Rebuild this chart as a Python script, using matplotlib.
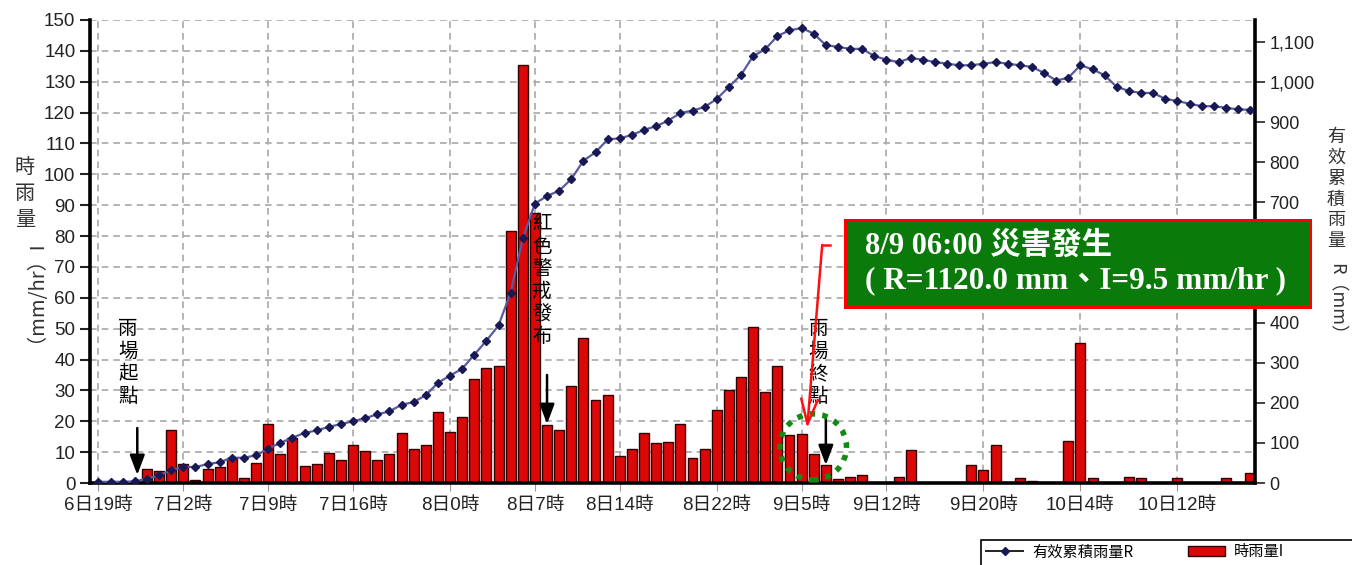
import numpy as np
import matplotlib
matplotlib.use('Agg')
import matplotlib.pyplot as plt
from matplotlib.patches import Ellipse, Rectangle, Patch
from matplotlib.lines import Line2D
from matplotlib.ticker import MultipleLocator

# 時雨量 I (mm/hr)，自 6日19時 起每小時一筆
I = [0, 0, 0, 0, 4.4, 4.0, 17.2, 6.2, 1.0, 4.4,
     5.1, 8.1, 1.6, 6.4, 19.0, 9.4, 14.5, 5.5, 6.2, 9.8,
     7.5, 12.3, 10.5, 7.5, 9.4, 16.3, 10.9, 12.3, 23.0, 16.4,
     21.3, 33.8, 37.2, 38.0, 81.5, 135.3, 87.5, 18.9, 17.3, 31.5,
     47.0, 26.8, 28.4, 8.8, 11.0, 16.3, 12.8, 13.3, 19.2, 8.0,
     11.0, 23.5, 30.0, 34.2, 50.4, 29.4, 37.9, 15.6, 15.8, 9.5,
     5.7, 1.4, 2.0, 2.7, 0, 0, 2.1, 10.6, 0, 0,
     0, 0, 5.9, 4.2, 12.4, 0, 1.6, 0.8, 0, 0,
     13.5, 45.3, 1.6, 0, 0, 2.1, 1.6, 0, 0, 1.6,
     0, 0, 0, 1.6, 0, 3.4]

# 有效累積雨量 R (mm)
R = [3, 3, 3, 4, 11, 19, 32, 40, 40, 47,
     52, 63, 63, 69, 86, 100, 113, 125, 131, 140,
     147, 154, 162, 171, 179, 195, 202, 219, 250, 268,
     285, 320, 355, 393, 475, 610, 697, 716, 729, 758,
     804, 825, 857, 860, 868, 881, 890, 904, 923, 929,
     938, 958, 988, 1018, 1065, 1082, 1115, 1129, 1135, 1121,
     1092, 1088, 1083, 1083, 1065, 1056, 1050, 1060, 1056, 1050,
     1046, 1042, 1042, 1046, 1050, 1046, 1042, 1038, 1023, 1004,
     1011, 1042, 1032, 1017, 988, 978, 973, 973, 958, 953,
     946, 940, 940, 936, 932, 931]

tick_idx = [0, 7, 14, 21, 29, 36, 43, 51, 58, 65, 73, 81, 89]
tick_lab = ['6日19時', '7日2時', '7日9時', '7日16時', '8日0時', '8日7時', '8日14時',
            '8日22時', '9日5時', '9日12時', '9日20時', '10日4時', '10日12時']
r_ticks = [0, 100, 200, 300, 400, 500, 600, 700, 800, 900, 1000, 1100]
hidden_r = [500, 600]   # 被說明框遮住的刻度

plt.rcParams['font.family'] = ['Liberation Sans', 'Noto Sans CJK TC']
CJK = ['Noto Sans CJK TC', 'DejaVu Sans']

W, H = 1352, 565
fig = plt.figure(figsize=(W / 100, H / 100), dpi=100)
ax = fig.add_axes([90 / W, 1 - 483 / H, 1165 / W, 463 / H])
x = np.arange(len(I))

# 時雨量長條
ax.bar(x, I, width=0.82, color='#dc0808', edgecolor='#300000', linewidth=1.0, zorder=2)
ax.set_xlim(-0.7, 95.4)
ax.set_ylim(0, 150)
ax.yaxis.set_major_locator(MultipleLocator(10))
ax.set_xticks(tick_idx)
ax.set_xticklabels(tick_lab, fontsize=13.5, color='#222')
ax.tick_params(axis='y', labelsize=13.5, colors='#222', length=7, width=1.5)
ax.tick_params(axis='x', length=6, color='#999', pad=4)
ax.grid(True, color='#a8a8a8', linestyle=(0, (4, 3)), linewidth=1.2, zorder=0)
ax.set_axisbelow(True)
for s in ['left', 'bottom']:
    ax.spines[s].set_linewidth(2.6)
    ax.spines[s].set_color('black')
ax.spines['top'].set_visible(False)
ax.spines['right'].set_visible(False)

# 有效累積雨量折線
ax2 = ax.twinx()
ax2.plot(x, R, color='#5a5aa0', linewidth=1.6, marker='D', markersize=4.2,
         markerfacecolor='#181855', markeredgecolor='#181855', zorder=3)
ax2.set_ylim(0, 1155)
ax2.set_yticks(r_ticks)
ax2.set_yticklabels(['' if v in hidden_r else f'{v:,}' for v in r_ticks])
ax2.tick_params(axis='y', labelsize=13, colors='#222', length=7, width=1.2)
ax2.spines['right'].set_linewidth(2.6)
ax2.spines['right'].set_color('black')
ax2.spines['top'].set_visible(False)
ax2.spines['left'].set_visible(False)
ax2.spines['bottom'].set_visible(False)

T = ax.transData
arrow_k = dict(arrowstyle='-|>,head_width=0.45,head_length=1.2', color='black', lw=1.8,
               shrinkA=0, shrinkB=0)
vt = dict(transform=T, ha='center', va='top', fontsize=14, linespacing=1.1,
          family=CJK, zorder=6)

# 雨場起點
ax2.text(2.45, 53.5, '雨\n場\n起\n點', **vt)
ax2.annotate('', xy=(3.2, 2.6), xytext=(3.2, 17.8), xycoords=T, textcoords=T,
             arrowprops=arrow_k, zorder=6)

# 紅色警戒發布
ax2.text(36.6, 87.5, '紅\n色\n警\n戒\n發\n布', **vt)
ax2.annotate('', xy=(37.0, 19.1), xytext=(37.0, 35), xycoords=T, textcoords=T,
             arrowprops=arrow_k, zorder=6)

# 雨場終點
ax2.text(59.4, 53.5, '雨\n場\n終\n點', **vt)
ax2.annotate('', xy=(60.0, 5.8), xytext=(60.0, 21.4), xycoords=T, textcoords=T,
             arrowprops=arrow_k, zorder=6)

# 綠色虛線圈
ax2.add_patch(Ellipse((58.95, 11.7), 5.5, 21.4, transform=T, fill=False,
                      edgecolor='#138a13', linewidth=4, linestyle=(0, (1, 1.3)), zorder=6))

# 紅色指示箭頭
ax2.plot([60.35, 59.7], [77.1, 77.1], transform=T, color='#ff1010', lw=1.8,
         clip_on=False, zorder=7)
ax2.annotate('', xy=(58.46, 17.8), xytext=(59.7, 77.1), xycoords=T, textcoords=T,
             arrowprops=dict(arrowstyle='->,head_width=0.6,head_length=1.8', color='#ff1010',
                             lw=1.8, shrinkA=0, shrinkB=0), zorder=7)

# 災害發生說明框
box = Rectangle((845 / W, 1 - 307 / H), 465 / W, 87 / H, transform=fig.transFigure,
                facecolor='#0a7a0a', edgecolor='#ff0000', linewidth=2.2, zorder=10)
fig.add_artist(box)
serif = ['Liberation Serif', 'Noto Sans CJK TC']
fig.text(865 / W, 1 - 246 / H, '8/9 06:00 災害發生', color='white', fontsize=22,
         fontweight='bold', family=serif, ha='left', va='center', zorder=11)
fig.text(865 / W, 1 - 281 / H, '( R=1120.0 mm、I=9.5 mm/hr )', color='white', fontsize=22.5,
         fontweight='bold', family=serif, ha='left', va='center', zorder=11)

# 座標軸標題 (直書)
fig.text(25 / W, 1 - 157 / H, '時\n雨\n量', ha='center', va='top', fontsize=14.5,
         linespacing=1.3, color='#333', family=CJK)
fig.text(25 / W, 1 - 230 / H, '（mm/hr）I', ha='center', va='top', rotation=90,
         fontsize=14.5, color='#333', family=CJK)
fig.text(1336 / W, 1 - 128 / H, '有\n效\n累\n積\n雨\n量', ha='center', va='top', fontsize=13,
         linespacing=1.2, color='#333', family=CJK, fontweight='light')
fig.text(1336 / W, 1 - 263 / H, 'R（mm）', ha='center', va='top', rotation=-90,
         fontsize=13, color='#333', family=CJK, fontweight='light')

# 圖例 (外框延伸出圖面)
fig.add_artist(Rectangle((981 / W, 1 - 575 / H), 400 / W, 35 / H, transform=fig.transFigure,
                         facecolor='white', edgecolor='black', linewidth=1.2, zorder=8))
handles = [Line2D([], [], color='#222', lw=1.4, marker='D', markersize=4,
                  markerfacecolor='#181855', markeredgecolor='#181855'),
           Patch(facecolor='#dc0808', edgecolor='#300000')]
leg = fig.legend(handles, ['有效累積雨量R', '時雨量I'], ncol=2, loc='upper left',
                 bbox_to_anchor=(984 / W, 1 - 541 / H), borderaxespad=0, frameon=False,
                 prop={'family': CJK, 'size': 11}, handlelength=2.4, handletextpad=0.6,
                 columnspacing=3.6, borderpad=0.15)
leg.set_zorder(9)

fig.savefig('out.png', dpi=100)
